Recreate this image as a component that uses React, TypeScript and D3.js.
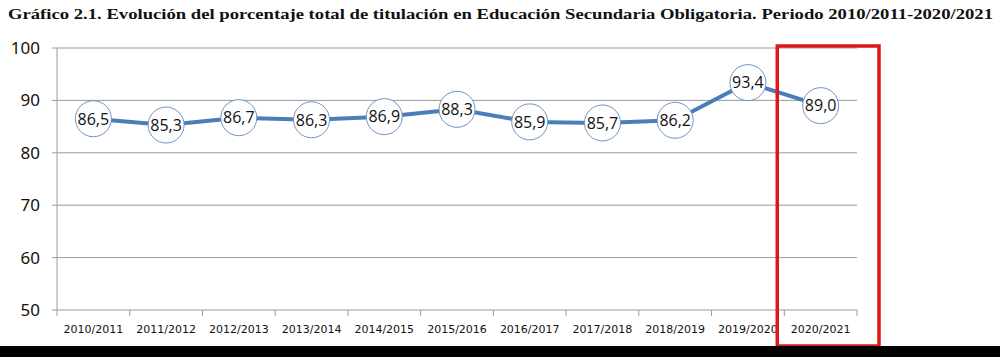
import React from "react";
import * as d3 from "d3";

const categories = ["2010/2011","2011/2012","2012/2013","2013/2014","2014/2015","2015/2016","2016/2017","2017/2018","2018/2019","2019/2020","2020/2021"];
const values = [86.5,85.3,86.7,86.3,86.9,88.3,85.9,85.7,86.2,93.4,89.0];
const yTicks = [50,60,70,80,90,100];
const title = "Gráfico 2.1. Evolución del porcentaje total de titulación en Educación Secundaria Obligatoria. Periodo 2010/2011-2020/2021";
const highlight = "2020/2021";

export default function App() {
  const W = 1000, H = 357;
  const left = 57, right = 857, top = 48, bottom = 310;
  const x = d3.scaleBand<string>().domain(categories).range([left, right]);
  const y = d3.scaleLinear().domain([50, 100]).range([bottom, top]);
  const cx = (c: string) => (x(c) as number) + x.bandwidth() / 2;
  const line = d3.line<number>().x((_, i) => cx(categories[i])).y(d => y(d));
  const fmt = (v: number) => v.toFixed(1).replace(".", ",");
  const hx = x(highlight) as number;
  return (
    <svg width={W} height={H} style={{ position: "absolute", left: 0, top: 0, background: "#fff" }}>
      <rect x={0} y={0} width={W} height={H} fill="#fff" />
      <text x={8} y={19} fontFamily="'Liberation Serif', serif" fontWeight="bold" fontSize={14.5} textLength={985} lengthAdjust="spacingAndGlyphs" fill="#111">{title}</text>
      {yTicks.map(t => (
        <g key={t}>
          <line x1={left - 5} x2={right} y1={y(t)} y2={y(t)} stroke="#9a9a9a" strokeWidth={1} />
          <text x={40} y={y(t)} dy="0.35em" textAnchor="end" fontFamily="'Noto Sans', sans-serif" fontSize={17} fill="#111">{t}</text>
        </g>
      ))}
      <line x1={left} x2={left} y1={top} y2={bottom} stroke="#9a9a9a" strokeWidth={1} />
      {categories.map((c, i) => (
        <line key={"t" + i} x1={x(c) as number} x2={x(c) as number} y1={bottom} y2={bottom + 6} stroke="#9a9a9a" />
      ))}
      <line x1={right} x2={right} y1={bottom} y2={bottom + 6} stroke="#9a9a9a" />
      {categories.map(c => (
        <text key={c} x={cx(c)} y={333} textAnchor="middle" fontFamily="'DejaVu Sans', sans-serif" fontSize={11} fill="#111">{c}</text>
      ))}
      <path d={line(values) || ""} fill="none" stroke="#4a7ebb" strokeWidth={4} strokeLinejoin="round" />
      {values.map((v, i) => (
        <g key={"p" + i}>
          <circle cx={cx(categories[i])} cy={y(v)} r={18} fill="#fff" stroke="#7093c8" strokeWidth={1} />
          <text x={cx(categories[i])} y={y(v)} dy="0.36em" textAnchor="middle" fontFamily="'Open Sans', sans-serif" fontSize={16} fill="#111">{fmt(v)}</text>
        </g>
      ))}
      <rect x={hx - 7} y={46} width={x.bandwidth() + 29} height={300} fill="none" stroke="#e0161b" strokeWidth={3.5} />
      <rect x={0} y={346} width={W} height={H - 346} fill="#000" />
    </svg>
  );
}
